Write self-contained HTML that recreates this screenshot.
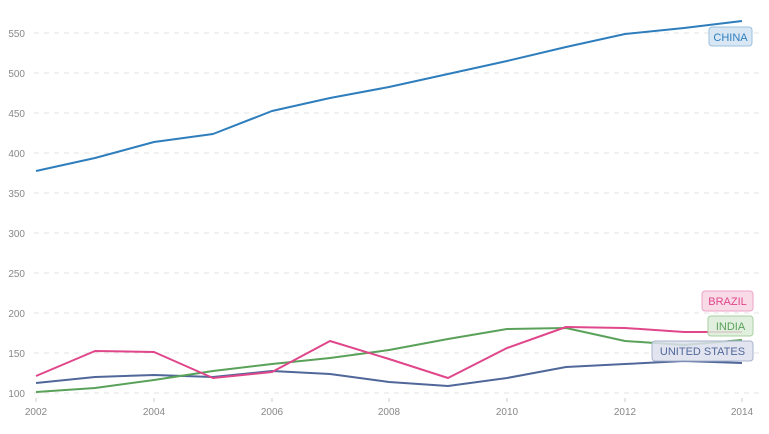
<!DOCTYPE html>
<html><head><meta charset="utf-8"><style>
body{margin:0;background:#fff;}
svg{display:block;font-family:"Liberation Sans",sans-serif;}
</style></head><body>
<svg width="769" height="434" viewBox="0 0 769 434">
<g stroke="#e3e3e3" stroke-dasharray="5,5" stroke-width="1">
<line x1="34" x2="762" y1="33" y2="33"/><line x1="34" x2="762" y1="73" y2="73"/>
<line x1="34" x2="762" y1="113" y2="113"/><line x1="34" x2="762" y1="153" y2="153"/>
<line x1="34" x2="762" y1="193" y2="193"/><line x1="34" x2="762" y1="233" y2="233"/>
<line x1="34" x2="762" y1="273" y2="273"/><line x1="34" x2="762" y1="313" y2="313"/>
<line x1="34" x2="762" y1="353" y2="353"/><line x1="34" x2="762" y1="393" y2="393"/>
</g>
<g stroke="#ccc">
<line x1="36" x2="36" y1="398" y2="402"/><line x1="154" x2="154" y1="398" y2="402"/>
<line x1="272" x2="272" y1="398" y2="402"/><line x1="389" x2="389" y1="398" y2="402"/>
<line x1="507" x2="507" y1="398" y2="402"/><line x1="625" x2="625" y1="398" y2="402"/>
<line x1="742" x2="742" y1="398" y2="402"/>
</g>
<g font-size="10" fill="#888" text-anchor="end">
<text x="25" y="37">550</text><text x="25" y="77">500</text><text x="25" y="117">450</text>
<text x="25" y="157">400</text><text x="25" y="197">350</text><text x="25" y="237">300</text>
<text x="25" y="277">250</text><text x="25" y="317">200</text><text x="25" y="357">150</text>
<text x="25" y="397">100</text>
</g>
<g font-size="10" fill="#888" text-anchor="middle">
<text x="36" y="415">2002</text><text x="154" y="415">2004</text><text x="272" y="415">2006</text>
<text x="389" y="415">2008</text><text x="507" y="415">2010</text><text x="625" y="415">2012</text>
<text x="742" y="415">2014</text>
</g>
<g fill="none" stroke-width="2" stroke-linejoin="round">
<polyline stroke="#2e7ebd" points="36,171 95,158 154,142 213,134 272,111 330,98 389,87 448,74 507,61 566,47 625,34 684,28 742,21"/>
<polyline stroke="#50679a" points="36,383 95,377 154,375 213,377 272,371 330,374 389,382 448,386 507,378 566,367 625,364 684,361 742,363"/>
<polyline stroke="#5aa15a" points="36,392 95,388 154,380 213,371 272,364 330,358 389,350 448,339 507,329 566,328 625,341 684,345 742,340"/>
<polyline stroke="#e0468a" points="36,376 95,351 154,352 213,378 272,372 330,341 389,359 448,378 507,348 566,327 625,328 684,332 742,332"/>
</g>
<rect x="709" y="27" width="43" height="19" rx="3" fill="#d4e4f2" fill-opacity="0.9" stroke="#9cc1e0"/>
<text x="730.5" y="41" font-size="11" fill="#2e7ebd" text-anchor="middle">CHINA</text>
<rect x="702" y="291" width="51" height="20" rx="3" fill="#f8d7e6" fill-opacity="0.9" stroke="#eca3c4"/>
<text x="727.5" y="305" font-size="11" fill="#e0468a" text-anchor="middle">BRAZIL</text>
<rect x="708" y="316" width="45" height="20" rx="3" fill="#dcecd8" fill-opacity="0.85" stroke="#a8d0a2"/>
<text x="730.5" y="330" font-size="11" fill="#5aa15a" text-anchor="middle">INDIA</text>
<rect x="652" y="341" width="101" height="20" rx="3" fill="#dde1ed" fill-opacity="0.85" stroke="#a9b3cf"/>
<text x="702.5" y="355" font-size="11" fill="#50679a" text-anchor="middle">UNITED STATES</text>
</svg>
</body></html>
